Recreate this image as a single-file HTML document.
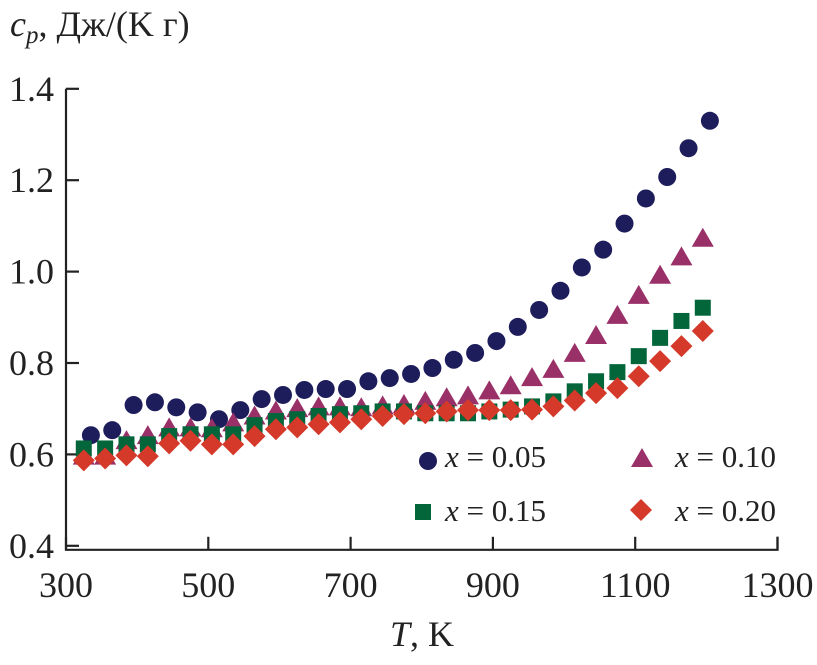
<!DOCTYPE html>
<html><head><meta charset="utf-8"><style>
html,body{margin:0;padding:0;background:#fff;}
svg{display:block;font-family:"Liberation Serif","DejaVu Serif",serif;}
</style></head><body>
<svg id="chart" width="817" height="665" viewBox="0 0 817 665">
<g id="axes"></g>
<g id="marks"></g>
<g id="legend"></g>
<text x="10" y="36" font-size="36" fill="#222"><tspan font-style="italic">c</tspan><tspan font-style="italic" font-size="25" dy="7">p</tspan><tspan dy="-7">, Дж/(K г)</tspan></text>
<text x="422" y="646" font-size="36" fill="#222" text-anchor="middle"><tspan font-style="italic">T</tspan>, K</text>
</svg>
<script>
const xTicks=[300,500,700,900,1100,1300];
const yTicks=[0.4,0.6,0.8,1.0,1.2,1.4];
const yTickLabels=["0.4","0.6","0.8","1.0","1.2","1.4"];
const tempsA=[335,365,395,425,455,485,515,545,575,605,635,665,695,725,755,785,815,845,875,905,935,965,995,1025,1055,1085,1115,1145,1175,1205];
const temps=[325,355,385,415,445,475,505,535,565,595,625,655,685,715,745,775,805,835,865,895,925,955,985,1015,1045,1075,1105,1135,1165,1195];
const cp005=[0.642,0.653,0.708,0.714,0.703,0.692,0.677,0.697,0.721,0.730,0.741,0.743,0.743,0.760,0.767,0.776,0.789,0.807,0.822,0.848,0.879,0.916,0.958,1.009,1.048,1.105,1.160,1.207,1.270,1.330];
const cp010=[0.595,0.595,0.629,0.640,0.657,0.657,0.655,0.668,0.683,0.694,0.699,0.703,0.703,0.701,0.705,0.708,0.715,0.723,0.727,0.738,0.749,0.767,0.785,0.820,0.859,0.903,0.947,0.991,1.031,1.072];
const cp015=[0.613,0.613,0.622,0.622,0.640,0.644,0.644,0.644,0.664,0.673,0.677,0.684,0.688,0.690,0.694,0.694,0.690,0.690,0.690,0.694,0.698,0.705,0.716,0.738,0.760,0.780,0.815,0.855,0.892,0.921];
const cp020=[0.587,0.591,0.598,0.596,0.624,0.630,0.622,0.622,0.640,0.655,0.659,0.666,0.670,0.677,0.684,0.688,0.690,0.694,0.697,0.697,0.697,0.698,0.705,0.718,0.734,0.745,0.771,0.804,0.837,0.870];
const NS="http://www.w3.org/2000/svg";
const X=t=>66+(t-300)*0.7115;
const Y=v=>363-(v-0.8)*457;
function mk(tag,attrs,parent){const e=document.createElementNS(NS,tag);for(const k in attrs)e.setAttribute(k,attrs[k]);parent.appendChild(e);return e;}
const axes=document.getElementById('axes');
let e=mk('path',{d:`M${X(300)},${Y(1.4)} V${Y(0.4)+4} H${X(1300)} V${Y(0.4)-9}`,fill:'none',stroke:'#222','stroke-width':2.2},axes);


yTicks.forEach((v,i)=>{
  const t=mk('line',{x1:X(300),x2:X(300)+13,y1:Y(v),y2:Y(v),stroke:'#222','stroke-width':2.2},axes);
  
  
  const l=mk('text',{x:54,y:Y(v)+12,'font-size':36,'text-anchor':'end',fill:'#222'},axes);
  l.textContent=yTickLabels[i];
  
  
});
xTicks.forEach(v=>{
  const t=mk('line',{x1:X(v),x2:X(v),y1:Y(0.4)+4,y2:Y(0.4)-9,stroke:'#222','stroke-width':2.2},axes);
  
  
  const l=mk('text',{x:X(v),y:597,'font-size':36,'text-anchor':'middle',fill:'#222'},axes);
  l.textContent=String(v);
  
  
});
function marker(kind,cx,cy,parent){
  let m;
  if(kind==='circle')m=mk('circle',{cx,cy,r:9,fill:'#1e1d5c'},parent);
  else if(kind==='tri')m=mk('polygon',{points:`${cx},${cy-11} ${cx+11},${cy+8} ${cx-11},${cy+8}`,fill:'#9a3068'},parent);
  else if(kind==='sq')m=mk('rect',{x:cx-8,y:cy-8,width:16,height:16,fill:'#02663a'},parent);
  else m=mk('polygon',{points:`${cx},${cy-11} ${cx+11},${cy} ${cx},${cy+11} ${cx-11},${cy}`,fill:'#d4392a'},parent);
  return m;
}
const marks=document.getElementById('marks');
const series=[['circle',tempsA,cp005,'x005'],['tri',temps,cp010,'x010'],['sq',temps,cp015,'x015'],['dia',temps,cp020,'x020']];
series.forEach(s=>{
  const g=mk('g',{},marks);
  
  
  s[2].forEach((v,i)=>{
    const m=marker(s[0],X(s[1][i]),Y(v),g);
    
    
  });
});
const leg=document.getElementById('legend');
const items=[['circle',428,461,445,467,'0.05'],['tri',642,459,675,467,'0.10'],['sq',423,512,445,521,'0.15'],['dia',641,510,675,521,'0.20']];
items.forEach(it=>{
  const m=marker(it[0],it[1],it[2],leg);
  
  
  const t=mk('text',{x:it[3],y:it[4],'font-size':31,fill:'#222'},leg);
  t.innerHTML='<tspan font-style="italic">x</tspan> = '+it[5];
  
  
});
</script>
</body></html>
